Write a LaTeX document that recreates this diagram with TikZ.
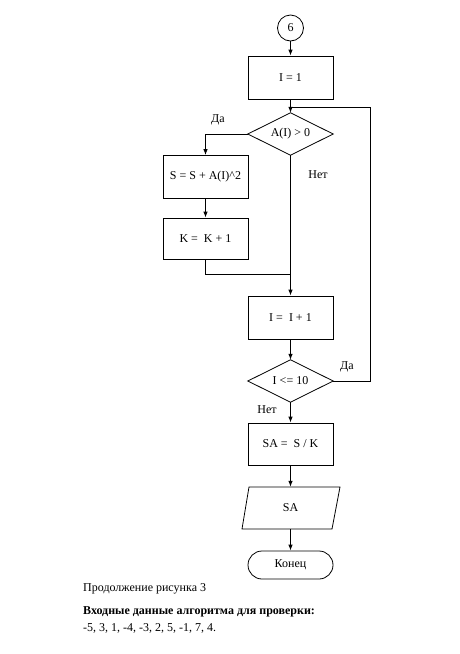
\documentclass[tikz,border=0pt]{standalone}
\usepackage{fontspec}
\setmainfont{Liberation Serif}
\usetikzlibrary{shapes.geometric,arrows.meta}
\begin{document}
\begin{tikzpicture}[x=1pt,y=-1pt,
  every node/.style={font=\fontsize{12}{14}\selectfont, inner sep=0pt},
  blk/.style={draw, rectangle, minimum width=85pt, minimum height=43pt, line width=0.8pt},
  decbox/.style={rectangle, minimum width=85pt, minimum height=42pt},
  conn/.style={draw, circle, minimum size=26pt, line width=0.8pt},
  term/.style={draw, rectangle, rounded corners=14pt, minimum width=85pt, minimum height=28pt, line width=0.8pt},
  lbl/.style={font=\fontsize{12}{14}\selectfont},
  line/.style={line width=0.8pt},
  arr/.style={line width=0.8pt, -{Latex[length=6pt,width=4.5pt]}}
]
\useasboundingbox[fill=white] (0,0) rectangle (459,654);

\node[conn] (c6) at (290.5,28) {6};
\node[blk] (n1) at (290.5,77.5) {I = 1};
\node[decbox] (d1) at (290.5,134) {A(I) > 0};
\draw[line] (d1.north) -- (d1.east) -- (d1.south) -- (d1.west) -- cycle;
\node[blk] (s1) at (205.5,177) {S = S + A(I)\textasciicircum 2};
\node[blk, minimum height=41pt] (k1) at (205.5,238.5) {K =\ \ K + 1};
\node[blk] (n2) at (290.5,317.5) {I =\ \ I + 1};
\node[decbox] (d2) at (290.5,381) {I <= 10};
\draw[line] (d2.north) -- (d2.east) -- (d2.south) -- (d2.west) -- cycle;
\node[blk, minimum height=42pt] (sa) at (290.5,444) {SA =\ \ S / K};
\node[rectangle, minimum width=84pt, minimum height=42pt] (out) at (290.5,508) {SA};
\draw[line] (249,487) -- (340,487) -- (332,529) -- (242,529) -- cycle;
\node[term] (end) at (290.5,565) {Конец};

\coordinate (m1) at (290.5,274);
\coordinate (j1) at (290.5,107);
\coordinate (lp) at (370.5,107);

\draw[arr] (c6) -- (n1);
\draw[arr] (n1) -- (d1.north);
\draw[arr] (d1.west) -| (s1.north);
\draw[arr] (s1) -- (k1);
\draw[line] (k1.south) |- (m1);
\draw[arr] (d1.south) -- (n2.north);
\draw[arr] (n2) -- (d2.north);
\draw[line] (d2.east) -| (lp) -- (j1);
\draw[arr] (d2.south) -- (sa);
\draw[arr] (sa) -- (out);
\draw[arr] (out) -- (end);

\node[lbl] (l1) at (218,120) {Да};
\node[lbl] (l2) at (318,175) {Нет};
\node[lbl] (l3) at (347,367) {Да};
\node[lbl] (l4) at (267,410) {Нет};

\node[anchor=west, font=\fontsize{12}{14}\selectfont] (t1) at (83,589) {Продолжение рисунка 3};
\node[anchor=west, font=\fontsize{12}{14}\selectfont\bfseries] (t2) at (83,612) {Входные данные алгоритма для проверки:};
\node[anchor=west, font=\fontsize{12}{14}\selectfont] (t3) at (83,628) {-5, 3, 1, -4, -3, 2, 5, -1, 7, 4.};
\end{tikzpicture}
\end{document}
